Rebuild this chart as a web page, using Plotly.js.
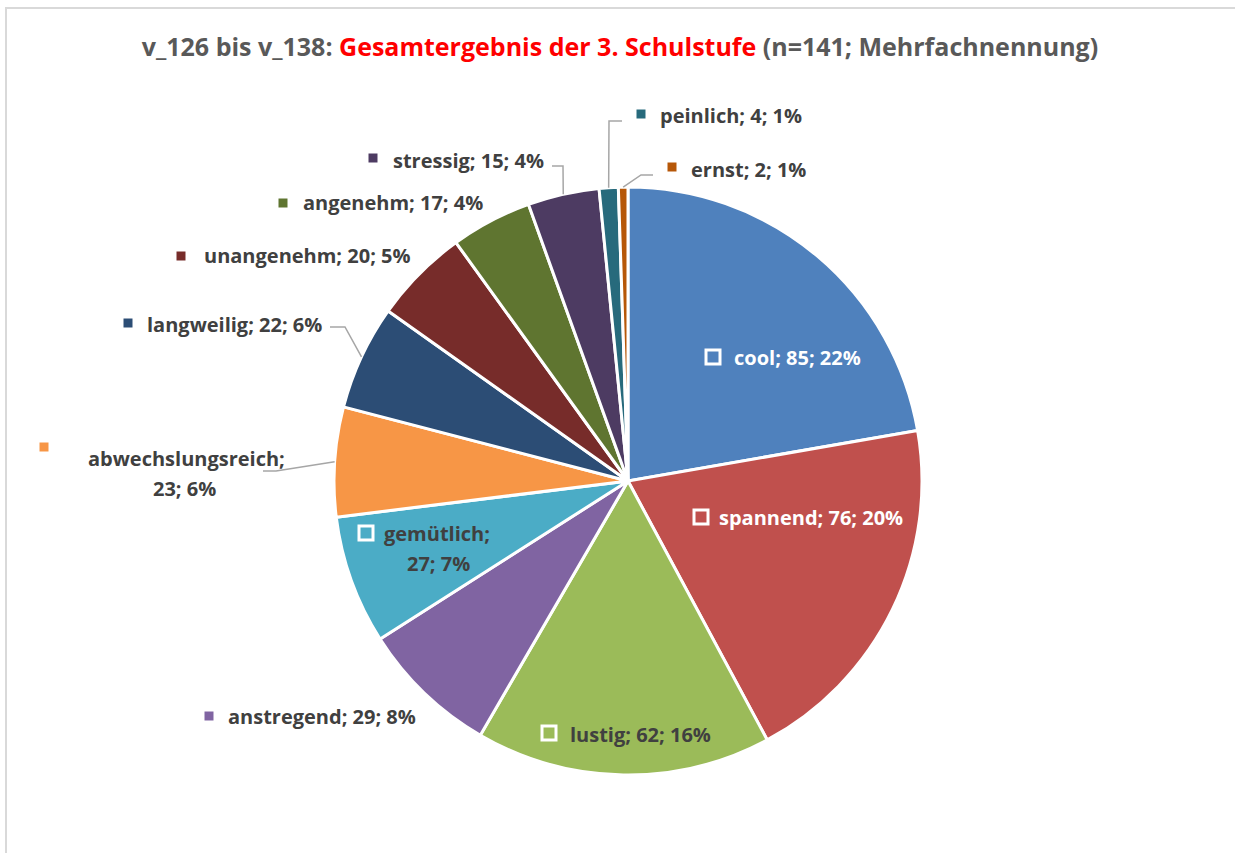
<!DOCTYPE html>
<html>
<head>
<meta charset="utf-8">
<script src="https://cdn.plot.ly/plotly-3.0.1.min.js"></script>
<style>
html,body{margin:0;padding:0;background:#fff;}
#chart{width:1235px;height:853px;}
</style>
</head>
<body>
<div id="chart"></div>
<script>
// ---- data ----
const categories = ["cool","spannend","lustig","anstregend","gemütlich","abwechslungsreich","langweilig","unangenehm","angenehm","stressig","peinlich","ernst"];
const counts = [85,76,62,29,27,23,22,20,17,15,4,2];
const colors = ["#4F81BD","#C0504D","#9BBB59","#8064A2","#4BACC6","#F79646","#2C4D75","#772C2A","#5F7530","#4D3B62","#276A7C","#B65708"];
const titlePre = "v_126 bis v_138: ";
const titleRed = "Gesamtergebnis der 3. Schulstufe";
const titlePost = " (n=141; Mehrfachnennung)";

// ---- geometry (layout) ----
const W = 1235, H = 853;
const CX = 628, CY = 481, R = 294;
const px = x => x / W;
const py = y => 1 - y / H;

// label placement (pixel layout): square position, text start/center, line break, leader elbows
const labelLayout = [
  {sq:[713,357], inside:true,  color:"#FFFFFF", lines:[{x:733,y:357,anchor:"left"}]},
  {sq:[701,517], inside:true,  color:"#FFFFFF", lines:[{x:718,y:517,anchor:"left"}]},
  {sq:[549,733], inside:true,  color:"#404040", lines:[{x:569,y:734,anchor:"left"}]},
  {sq:[209,716], inside:false, color:"#404040", lines:[{x:227,y:716,anchor:"left"}]},
  {sq:[366,533], inside:true,  color:"#404040", split:true, lines:[{x:437,y:533,anchor:"center"},{x:438,y:563,anchor:"center"}]},
  {sq:[44,447],  inside:false, color:"#404040", split:true, lines:[{x:186,y:459,anchor:"center"},{x:184,y:488,anchor:"center"}], leader:[[263,471],[276,471]]},
  {sq:[128,323], inside:false, color:"#404040", lines:[{x:146,y:324,anchor:"left"}], leader:[[330,327],[345,327]]},
  {sq:[181,256], inside:false, color:"#404040", lines:[{x:203,y:256,anchor:"left"}]},
  {sq:[283,203], inside:false, color:"#404040", lines:[{x:302,y:203,anchor:"left"}]},
  {sq:[373,158], inside:false, color:"#404040", lines:[{x:392,y:160,anchor:"left"}], leader:[[552,166],[563,166]]},
  {sq:[641,114], inside:false, color:"#404040", lines:[{x:659,y:115,anchor:"left"}], leader:[[622,121],[609,121]]},
  {sq:[672,167], inside:false, color:"#404040", lines:[{x:690,y:169,anchor:"left"}], leader:[[653,175],[641,175]]}
];

const total = counts.reduce((a,b)=>a+b,0);
const pct = counts.map(v => Math.round(v/total*100));

const FONT = "'Open Sans', Lato, sans-serif";
const FS = 20;

const annotations = [];
const shapes = [];

// chart frame (light gray border)
shapes.push({type:"path", xref:"paper", yref:"paper",
  path:`M ${px(6)} ${py(860)} L ${px(6)} ${py(8)} L ${px(1240)} ${py(8)}`,
  line:{color:"#D9D9D9", width:2}, layer:"below"});

let cum = 0;
categories.forEach((cat,i)=>{
  const mid = (cum + counts[i]/2) / total * 2*Math.PI;
  cum += counts[i];
  const L = labelLayout[i];
  const full = `${cat}; ${counts[i]}; ${pct[i]}%`;
  const parts = L.split ? [`${cat};`, `${counts[i]}; ${pct[i]}%`] : [full];
  parts.forEach((t,k)=>{
    const ln = L.lines[k];
    annotations.push({xref:"paper", yref:"paper", x:px(ln.x), y:py(ln.y),
      xanchor:ln.anchor, yanchor:"middle", showarrow:false, text:t,
      font:{family:FONT, size:FS, color:L.color, weight:"bold"}, borderpad:0});
  });
  // legend key square
  const s = L.inside ? 7 : 4.5;
  shapes.push({type:"rect", xref:"paper", yref:"paper",
    x0:px(L.sq[0]-s), x1:px(L.sq[0]+s), y0:py(L.sq[1]+s), y1:py(L.sq[1]-s),
    fillcolor:colors[i], line:{color: L.inside ? "#FFFFFF" : colors[i], width: L.inside ? 3 : 0}});
  // leader line to slice edge (anchor from slice mid-angle)
  if (L.leader) {
    const ax = CX + R*Math.sin(mid), ay = CY - R*Math.cos(mid);
    let p = `M ${px(L.leader[0][0])} ${py(L.leader[0][1])}`;
    for (let k=1;k<L.leader.length;k++) p += ` L ${px(L.leader[k][0])} ${py(L.leader[k][1])}`;
    p += ` L ${px(ax)} ${py(ay)}`;
    shapes.push({type:"path", xref:"paper", yref:"paper", path:p, line:{color:"#A6A6A6", width:1.5}});
  }
});

const trace = {
  type:"pie",
  labels:categories,
  values:counts,
  sort:false,
  direction:"clockwise",
  rotation:0,
  marker:{colors:colors, line:{color:"#FFFFFF", width:3}},
  textinfo:"none",
  hoverinfo:"label+value+percent",
  showlegend:false,
  domain:{x:[px(CX-R), px(CX+R)], y:[py(CY+R), py(CY-R)]}
};

const layout = {
  width:W, height:H,
  margin:{l:0,r:0,t:0,b:0},
  paper_bgcolor:"#FFFFFF",
  showlegend:false,
  title:{
    text:`${titlePre}<span style="color:#FF0000">${titleRed}</span>${titlePost}`,
    x:px(620), xanchor:"center", y:py(47), yanchor:"middle",
    font:{family:FONT, size:25, color:"#595959", weight:"bold"}
  },
  annotations:annotations,
  shapes:shapes
};

Plotly.newPlot("chart",[trace],layout,{displayModeBar:false, staticPlot:true});
</script>
</body>
</html>
